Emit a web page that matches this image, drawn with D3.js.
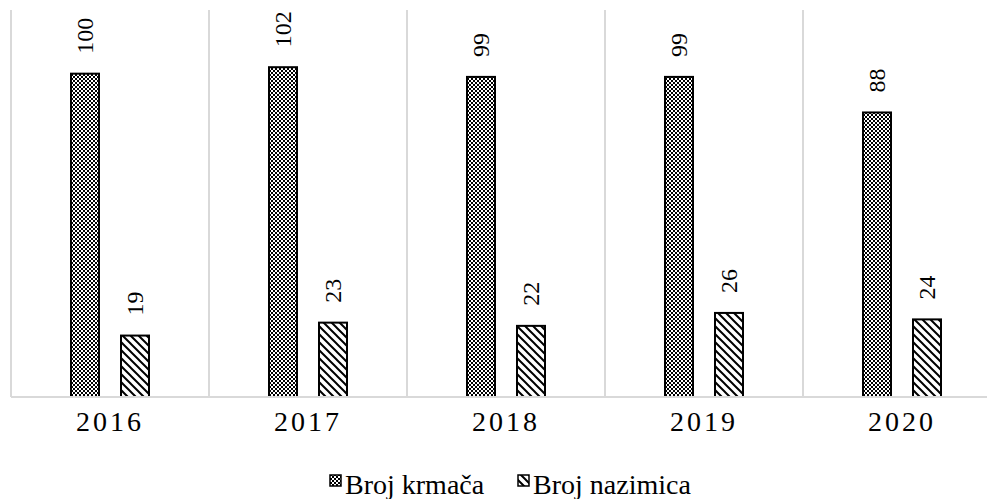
<!DOCTYPE html>
<html>
<head>
<meta charset="utf-8">
<script src="https://cdn.jsdelivr.net/npm/d3@7"></script>
</head>
<body style="margin:0">
<div id="plot"></div>
<script>
// data
const years = ["2016", "2017", "2018", "2019", "2020"];
const seriesNames = ["Broj krmača", "Broj nazimica"];
const krmace = [100, 102, 99, 99, 88];
const nazimice = [19, 23, 22, 26, 24];

const width = 987, height = 499;
const plot = {left: 11, right: 1001, top: 9, bottom: 397};
const serif = "Liberation Serif";

const svg = d3.select("#plot").append("svg")
    .attr("width", width)
    .attr("height", height)
    .attr("font-family", serif);

// fill patterns
const defs = svg.append("defs");
const checker = defs.append("pattern")
    .attr("id", "checker")
    .attr("patternUnits", "userSpaceOnUse")
    .attr("width", 4).attr("height", 4);
checker.append("rect").attr("width", 4).attr("height", 4).attr("fill", "#000");
checker.append("rect").attr("x", 0).attr("y", 0).attr("width", 2).attr("height", 2).attr("fill", "#fff");
checker.append("rect").attr("x", 2).attr("y", 2).attr("width", 2).attr("height", 2).attr("fill", "#fff");

const hatch = defs.append("pattern")
    .attr("id", "hatch")
    .attr("patternUnits", "userSpaceOnUse")
    .attr("width", 8).attr("height", 8);
hatch.append("rect").attr("width", 8).attr("height", 8).attr("fill", "#fff");
hatch.append("path")
    .attr("d", "M-2,-2 L10,10 M-2,6 L2,10 M6,-2 L10,2")
    .attr("stroke", "#000").attr("stroke-width", 2);

const fills = ["url(#checker)", "url(#hatch)"];

// scales
const x0 = d3.scaleBand().domain(years).range([plot.left, plot.right]).padding(0);
const x1 = d3.scaleBand().domain(seriesNames).range([60, 138]).paddingInner(0.44);
const y = d3.scaleLinear().domain([0, 120]).range([plot.bottom, plot.top]);

// vertical separators between categories
const seps = x0.domain().map(d => x0(d)).concat([plot.right]);
svg.append("g").selectAll("line")
  .data(seps)
  .enter().append("line")
    .attr("x1", d => d).attr("x2", d => d)
    .attr("y1", y(120) + 1).attr("y2", plot.bottom)
    .attr("stroke", "#d9d9d9").attr("stroke-width", 2);

// bars
const table = years.map((yr, i) => ({year: yr, values: [krmace[i], nazimice[i]]}));

const groups = svg.selectAll(".yearGroup")
  .data(table)
  .enter().append("g")
    .attr("class", "yearGroup")
    .attr("transform", d => `translate(${x0(d.year)},0)`);

groups.selectAll("rect")
  .data(d => d.values.map((v, k) => ({key: seriesNames[k], value: v, k})))
  .enter().append("rect")
    .attr("x", d => x1(d.key))
    .attr("y", d => y(d.value))
    .attr("width", x1.bandwidth())
    .attr("height", d => y(0) - y(d.value))
    .attr("fill", d => fills[d.k])
    .attr("stroke", "#000")
    .attr("stroke-width", 2);

// value labels, rotated
groups.selectAll("text.val")
  .data(d => d.values.map((v, k) => ({key: seriesNames[k], value: v})))
  .enter().append("text")
    .attr("class", "val")
    .attr("transform", d => `translate(${x1(d.key) + x1.bandwidth() / 2},${y(d.value) - 20}) rotate(-90)`)
    .attr("dy", "0.35em")
    .attr("font-family", serif)
    .attr("font-size", 24)
    .attr("fill", "#000")
    .text(d => d.value);

// baseline
svg.append("line")
    .attr("x1", plot.left).attr("x2", plot.right)
    .attr("y1", plot.bottom).attr("y2", plot.bottom)
    .attr("stroke", "#d9d9d9").attr("stroke-width", 2);

// x axis labels
const xAxis = svg.append("g")
    .attr("transform", `translate(0,${plot.bottom})`)
    .call(d3.axisBottom(x0).tickSize(0).tickPadding(14));
xAxis.select(".domain").remove();
xAxis.attr("font-family", serif).attr("font-size", 28);
xAxis.selectAll("text")
    .attr("letter-spacing", 3)
    .attr("fill", "#000");

// legend
const legendItems = [
  {name: seriesNames[0], fill: fills[0], x: 330},
  {name: seriesNames[1], fill: fills[1], x: 518}
];
const legend = svg.selectAll(".legend")
  .data(legendItems)
  .enter().append("g")
    .attr("class", "legend")
    .attr("transform", d => `translate(${d.x},0)`);

legend.append("rect")
    .attr("x", 0).attr("y", 475)
    .attr("width", 11).attr("height", 11)
    .attr("fill", d => d.fill)
    .attr("stroke", "#000").attr("stroke-width", 1.5);

legend.append("text")
    .attr("x", 15)
    .attr("y", 494)
    .attr("font-family", serif)
    .attr("font-size", 28)
    .attr("fill", "#000")
    .text(d => d.name);
</script>
</body>
</html>
